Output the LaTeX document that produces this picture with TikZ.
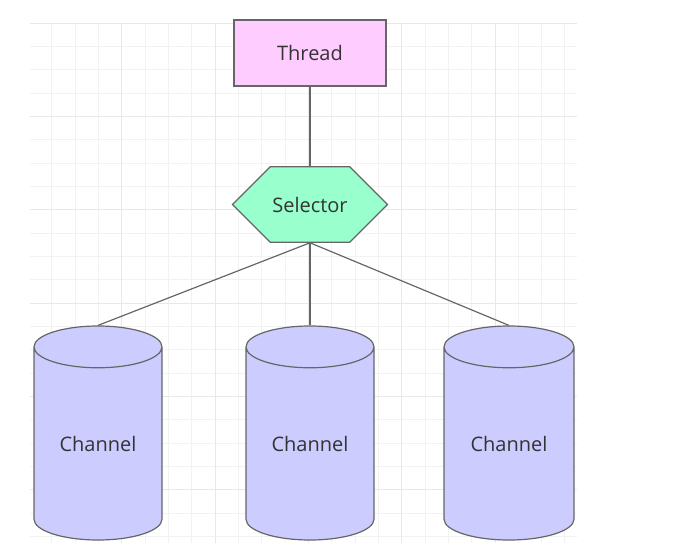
\documentclass[tikz,border=0pt]{standalone}
\usepackage{fontspec}
\setmainfont{Open Sans}
\usetikzlibrary{shapes.geometric,shapes.misc}

\definecolor{threadfill}{HTML}{FFCCFF}
\definecolor{selfill}{HTML}{99FFCC}
\definecolor{chanfill}{HTML}{CCCCFF}
\definecolor{edgegray}{HTML}{666666}
\definecolor{minorgrid}{HTML}{F2F2F2}
\definecolor{majorgrid}{HTML}{E8E8E8}

\tikzset{
  box/.style={draw=edgegray,line width=1.2pt,text=black!80,font=\fontsize{20}{24}\selectfont},
  chan/.style={box,fill=chanfill,cylinder,shape border rotate=90,aspect=0.5,
    minimum width=128pt,minimum height=214pt,anchor=shape center},
  link/.style={draw=edgegray,line width=1.2pt},
}

\begin{document}
\begin{tikzpicture}[x=1pt,y=-1pt]
  \useasboundingbox (0,0) rectangle (691,546);
  % background grid
  \foreach \k in {1,...,23}
    \draw[minorgrid,line width=1pt] (28.4+23.33*\k,23) -- (28.4+23.33*\k,543);
  \foreach \k in {0,...,22}
    \draw[minorgrid,line width=1pt] (30,23.3+23.33*\k) -- (577,23.3+23.33*\k);
  \foreach \k in {1,...,5}
    \draw[majorgrid,line width=1pt] (28.4+93.33*\k,23) -- (28.4+93.33*\k,543);
  \foreach \k in {0,...,5}
    \draw[majorgrid,line width=1pt] (30,23.3+93.33*\k) -- (577,23.3+93.33*\k);

  \node[box,fill=threadfill,minimum width=152pt,minimum height=66pt] at (310,53) (thread) {Thread};
  \node[box,fill=selfill,chamfered rectangle,chamfered rectangle xsep=13pt,
        chamfered rectangle ysep=30pt,inner sep=0pt,
        minimum width=155pt,minimum height=60pt] at (310,204.5) (sel) {Selector};
  \node[chan] at (98,433) (ch1) {\raisebox{6pt}{Channel}};
  \node[chan] at (310,433) (ch2) {\raisebox{6pt}{Channel}};
  \node[chan,minimum width=130pt] at (509,433) (ch3) {\raisebox{6pt}{Channel}};

  \draw[link] (thread.south) -- (sel.north);
  \draw[link] (sel.south) -- (ch1.top);
  \draw[link] (sel.south) -- (ch2.top);
  \draw[link] (sel.south) -- (ch3.top);
\end{tikzpicture}
\end{document}
